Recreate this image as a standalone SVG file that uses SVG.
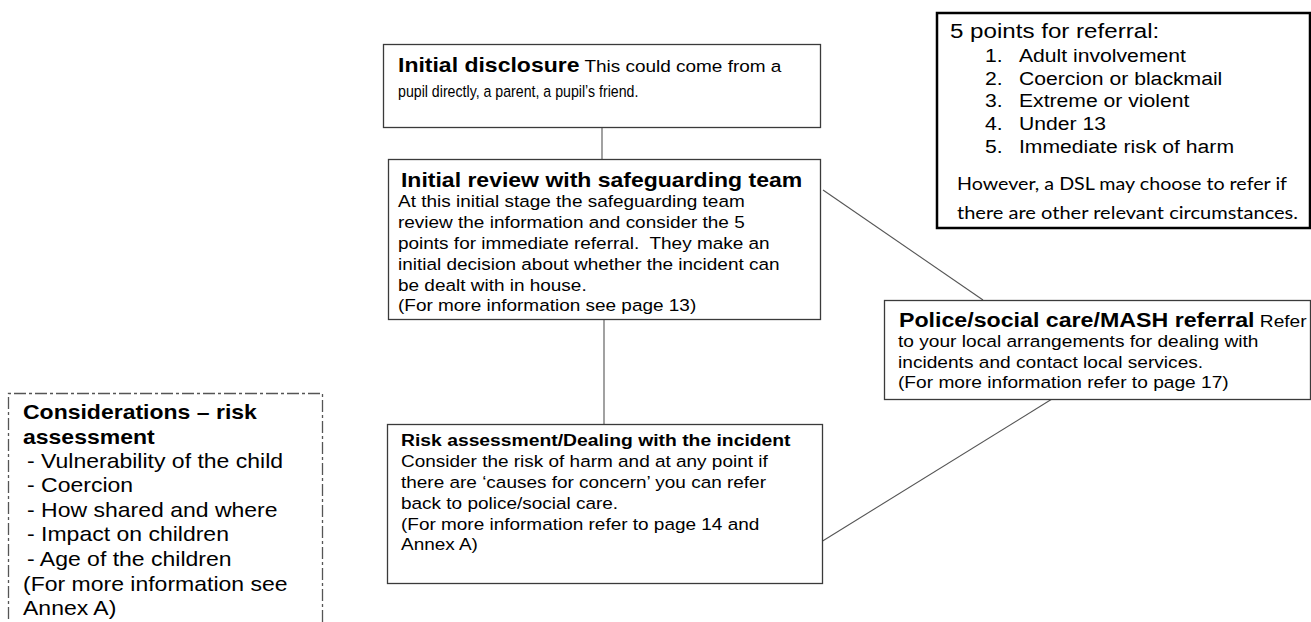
<svg xmlns="http://www.w3.org/2000/svg" width="1311" height="622" viewBox="0 0 1311 622">
<style>
.box{fill:#fff;stroke:#3a3a3a;stroke-width:1.3}
.conn{stroke:#555;stroke-width:1.1;fill:none}
.t{font-family:"Liberation Sans",Arial,sans-serif;fill:#000}
.b{font-weight:bold}
.h20{font-size:20px}
.h17{font-size:16.8px}
.r{font-size:16.5px}
.c{font-family:Lato,"Liberation Sans",sans-serif;font-size:18px;fill:#000}
</style>
<rect width="1311" height="622" fill="#fff"/>
<g id="connectors">
<line class="conn" x1="602" y1="128" x2="602" y2="159"/>
<line class="conn" x1="604" y1="320" x2="604" y2="424"/>
<line class="conn" x1="823" y1="190" x2="983" y2="300"/>
<line class="conn" x1="821" y1="542" x2="1052" y2="399"/>
</g>
<g id="initial-disclosure">
<rect class="box" x="383.5" y="44.5" width="437" height="83"/>
<g transform="translate(398 0) scale(1.15 1)">
<text class="t" y="72"><tspan class="b h20">Initial disclosure</tspan><tspan class="r"> This could come from a</tspan></text>
<text class="t r" x="0" y="97" textLength="209" lengthAdjust="spacingAndGlyphs">pupil directly, a parent, a pupil’s friend.</text>
</g>
</g>
<g id="initial-review">
<rect class="box" x="388.5" y="159.5" width="432" height="160"/>
<g transform="translate(398 0) scale(1.15 1)">
<text class="t b h20" x="2.6" y="187">Initial review with safeguarding team</text>
<text class="t r" x="0" y="207">At this initial stage the safeguarding team</text>
<text class="t r" x="0" y="228">review the information and consider the 5</text>
<text class="t r" x="0" y="249">points for immediate referral.&#160; They make an</text>
<text class="t r" x="0" y="270">initial decision about whether the incident can</text>
<text class="t r" x="0" y="291">be dealt with in house.</text>
<text class="t r" x="0" y="311">(For more information see page 13)</text>
</g>
</g>
<g id="risk-assessment">
<rect class="box" x="387.5" y="424.5" width="435" height="159"/>
<g transform="translate(401 0) scale(1.15 1)">
<text class="t b h17" x="0" y="446">Risk assessment/Dealing with the incident</text>
<text class="t r" x="0" y="467">Consider the risk of harm and at any point if</text>
<text class="t r" x="0" y="488">there are ‘causes for concern’ you can refer</text>
<text class="t r" x="0" y="509">back to police/social care.</text>
<text class="t r" x="0" y="530">(For more information refer to page 14 and</text>
<text class="t r" x="0" y="550">Annex A)</text>
</g>
</g>
<g id="police-referral">
<rect class="box" x="884.5" y="300.5" width="426" height="99"/>
<g transform="translate(898 0) scale(1.16 1)">
<text class="t" x="0.8" y="327"><tspan class="b h20">Police/social care/MASH referral</tspan><tspan class="r"> Refer</tspan></text>
<text class="t r" x="0" y="347">to your local arrangements for dealing with</text>
<text class="t r" x="0" y="368">incidents and contact local services.</text>
<text class="t r" x="0" y="388">(For more information refer to page 17)</text>
</g>
</g>
<g id="five-points">
<rect x="937" y="13" width="373" height="215" fill="#fff" stroke="#000" stroke-width="2.5"/>
<g transform="translate(950 0) scale(1.15 1)">
<text class="t" x="0" y="38" font-size="21">5 points for referral:</text>
<g font-size="18.4">
<text class="t" x="30.4" y="62">1.</text><text class="t" x="60" y="62">Adult involvement</text>
<text class="t" x="30.4" y="85">2.</text><text class="t" x="60" y="85">Coercion or blackmail</text>
<text class="t" x="30.4" y="107">3.</text><text class="t" x="60" y="107">Extreme or violent</text>
<text class="t" x="30.4" y="130">4.</text><text class="t" x="60" y="130">Under 13</text>
<text class="t" x="30.4" y="153">5.</text><text class="t" x="60" y="153">Immediate risk of harm</text>
</g>
</g>
<text class="c" x="957" y="190" textLength="330" lengthAdjust="spacingAndGlyphs">However, a DSL may choose to refer if</text>
<text class="c" x="957" y="219" textLength="341" lengthAdjust="spacingAndGlyphs">there are other relevant circumstances.</text>
</g>
<g id="considerations">
<path d="M8.5 640 V393.5 H322.5 V640" fill="#fff" stroke="#555" stroke-width="1.3" stroke-dasharray="12 3 3 3"/>
<g transform="translate(23 0) scale(1.15 1)" font-size="20">
<text class="t b" x="0" y="419">Considerations – risk</text>
<text class="t b" x="0" y="444">assessment</text>
<text class="t" x="3.5" y="468">- Vulnerability of the child</text>
<text class="t" x="3.5" y="492">- Coercion</text>
<text class="t" x="3.5" y="517">- How shared and where</text>
<text class="t" x="3.5" y="541">- Impact on children</text>
<text class="t" x="3.5" y="566">- Age of the children</text>
<text class="t" x="0" y="591">(For more information see</text>
<text class="t" x="0" y="615">Annex A)</text>
</g>
</g>
</svg>
